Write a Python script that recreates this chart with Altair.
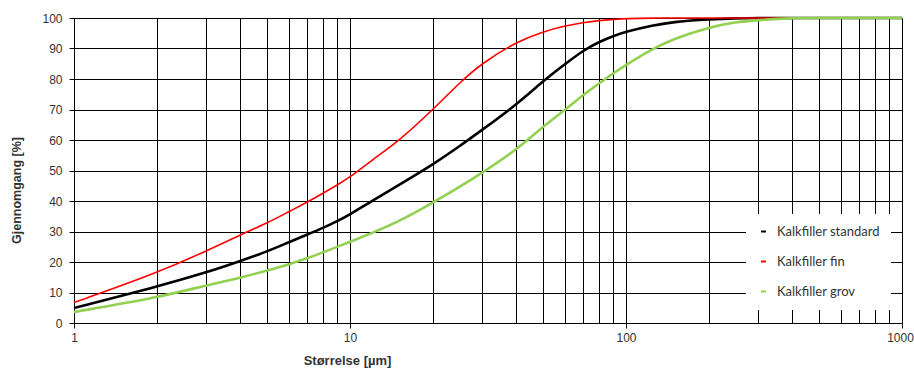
import altair as alt
import pandas as pd

sizes = [1, 2, 3, 4, 5, 6, 7, 8, 9, 10, 12, 15, 20, 25, 30, 40, 50, 60, 70, 80, 90, 100,
         125, 150, 200, 250, 300, 400, 500, 700, 1000]
standard = [4.9, 11.9, 16.5, 20.3, 23.4, 26.5, 29.0, 31.2, 33.4, 35.6, 40.0, 45.2, 52.0,
            58.0, 63.2, 71.5, 79.3, 84.8, 89.4, 92.2, 94.1, 95.5,
            97.6, 98.8, 99.6, 99.9, 100, 100, 100, 100, 100]
fin = [6.7, 16.4, 23.5, 28.9, 32.7, 36.5, 39.6, 42.6, 45.3, 47.8, 53.4, 59.6, 70.0,
       78.9, 85.1, 92.2, 95.5, 97.4, 98.5, 99.2, 99.5, 99.8,
       100, 100, 100, 100, 100, 100, 100, 100, 100]
grov = [3.6, 8.3, 12.3, 14.8, 17.2, 19.2, 21.2, 23.2, 25.0, 26.6, 29.5, 33.2, 39.5,
        44.7, 49.1, 56.7, 64.4, 69.8, 74.8, 78.6, 81.9, 84.6,
        90.0, 93.3, 97.0, 98.7, 99.3, 100, 100, 100, 100]

series_names = ["Kalkfiller standard", "Kalkfiller fin", "Kalkfiller grov"]
series_colors = ["#000000", "#ff0000", "#92d050"]
series_widths = [2.6, 1.6, 2.6]

x_grid = [m * 10 ** e for e in range(3) for m in range(1, 10)] + [1000]
x_labels = [1, 10, 100, 1000]
y_ticks = list(range(0, 101, 10))

rows = []
for name, vals in zip(series_names, [standard, fin, grov]):
    for s, v in zip(sizes, vals):
        rows.append({"size": s, "pct": v, "serie": name})
df = pd.DataFrame(rows)

major_test = " || ".join(f"datum.value == {v}" for v in x_labels)

x_enc = alt.X(
    "size:Q",
    scale=alt.Scale(type="log", domain=[1, 1000], nice=False),
    axis=alt.Axis(
        values=x_grid,
        labelExpr=f"({major_test}) ? '' + datum.value : ''",
        grid=True,
        gridColor="#000000",
        gridWidth=1,
        domain=False,
        tickSize=5,
        tickColor="#000000",
        tickOpacity={"condition": {"test": major_test, "value": 1}, "value": 0},
        labelPadding=4,
        labelOffset={"condition": {"test": "datum.value == 1000", "value": -2}, "value": 0},
        labelFont="Liberation Sans",
        labelFontSize=12,
        labelColor="#333333",
        labelFlush=False,
        title="Størrelse [µm]",
        titleFont="Liberation Sans",
        titleFontSize=13,
        titleFontWeight="bold",
        titleColor="#333333",
        titleX=273,
        titleY=41,
        titleAnchor="middle",
        titleAlign="center",
        titleBaseline="alphabetic",
    ),
)

y_enc = alt.Y(
    "pct:Q",
    scale=alt.Scale(domain=[0, 100], nice=False),
    axis=alt.Axis(
        values=y_ticks,
        grid=True,
        gridColor="#000000",
        gridWidth=1,
        domain=False,
        tickSize=5,
        tickColor="#000000",
        labelPadding=7,
        labelFont="Liberation Sans",
        labelFontSize=12,
        labelColor="#333333",
        title="Gjennomgang [%]",
        titleFont="Liberation Sans",
        titleFontSize=12.5,
        titleFontWeight="bold",
        titleColor="#333333",
        titleX=-58,
        titleY=172,
        titleAngle=270,
        titleAlign="center",
        titleBaseline="middle",
    ),
)

color_enc = alt.Color(
    "serie:N",
    scale=alt.Scale(domain=series_names, range=series_colors),
    legend=alt.Legend(
        title=None,
        orient="none",
        legendX=672,
        legendY=196,
        fillColor="white",
        padding=11,
        symbolType="stroke",
        symbolSize=25,
        symbolStrokeWidth=2,
        rowPadding=16,
        labelOffset=7,
        labelFont="Lato",
        labelFontSize=13,
        labelColor="#333333",
    ),
)

layers = []
for name, w in zip(series_names, series_widths):
    layers.append(
        alt.Chart(df)
        .transform_filter(alt.datum.serie == name)
        .mark_line(interpolate="basis", strokeWidth=w)
        .encode(x=x_enc, y=y_enc, color=color_enc)
    )

chart = (
    alt.layer(*layers)
    .properties(
        width=828,
        height=305,
        autosize=alt.AutoSizeParams(type="none"),
        padding={"left": 74, "top": 18, "right": 12, "bottom": 45},
    )
    .configure_view(stroke=None)
    .configure(background="white")
)

chart.save("out.html", embed_options={"renderer": "svg", "actions": False})
